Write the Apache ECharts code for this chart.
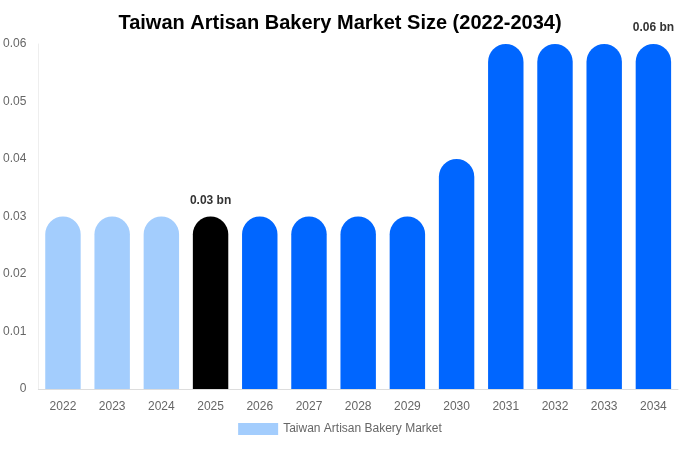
<!DOCTYPE html>
<html>
<head>
<meta charset="utf-8">
<script src="https://cdn.jsdelivr.net/npm/echarts@6/dist/echarts.min.js"></script>
<style>html,body{margin:0;padding:0;}#chart{width:680px;height:450px;}</style>
</head>
<body>
<div id="chart"></div>
<script>
// 年份和市场规模数据
var years = ['2022','2023','2024','2025','2026','2027','2028','2029','2030','2031','2032','2033','2034'];
var values = [0.03,0.03,0.03,0.03,0.03,0.03,0.03,0.03,0.04,0.06,0.06,0.06,0.06];
var yTicks = [0, 0.01, 0.02, 0.03, 0.04, 0.05, 0.06];
var labelYears = ['2025', '2034'];

var chart = echarts.init(document.getElementById('chart'));

// 颜色：历史浅蓝，当前年黑色，预测深蓝
function barColor(i) {
	if (i < 3) return '#a3cdfd';
	if (i == 3) return '#000000';
	return '#0066ff';
}

var seriesData = [];
for (var i = 0; i < years.length; i++) {
	var show = labelYears.indexOf(years[i]) >= 0;
	seriesData.push({
		value: values[i],
		itemStyle: { color: barColor(i) },
		label: { show: show }
	});
}

chart.setOption({
	title: {
		text: 'Taiwan Artisan Bakery Market Size (2022-2034)',
		left: 'center',
		top: 8,
		textStyle: { fontSize: 20, fontWeight: 'bold', color: '#000', fontFamily: 'Liberation Sans' }
	},
	legend: {
		bottom: 10,
		itemWidth: 40,
		itemHeight: 12,
		icon: 'rect',
		textStyle: { color: '#666', fontSize: 12, fontFamily: 'Liberation Sans' },
		data: [{ name: 'Taiwan Artisan Bakery Market', itemStyle: { color: '#a3cdfd' } }]
	},
	grid: { left: 38, right: 2, top: 44, bottom: 61 },
	xAxis: {
		type: 'category',
		data: years,
		axisLine: { lineStyle: { color: '#ddd' } },
		axisTick: { show: false },
		axisLabel: { color: '#666', fontSize: 12, margin: 12, fontFamily: 'Liberation Sans' }
	},
	yAxis: {
		type: 'value',
		min: 0,
		max: yTicks[yTicks.length - 1],
		interval: 0.01,
		axisLine: { show: true, lineStyle: { color: '#eee' } },
		splitLine: { show: false },
		axisLabel: { color: '#666', fontSize: 12, margin: 12, fontFamily: 'Liberation Sans' }
	},
	series: [{
		name: 'Taiwan Artisan Bakery Market',
		type: 'bar',
		barWidth: '72%',
		data: seriesData,
		itemStyle: { borderRadius: [18, 18, 0, 0] },
		label: {
			position: 'top',
			distance: 10,
			fontWeight: 'bold',
			fontSize: 12,
			color: '#333',
			fontFamily: 'Liberation Sans',
			formatter: function (p) { return p.value + ' bn'; }
		}
	}]
});
</script>
</body>
</html>
